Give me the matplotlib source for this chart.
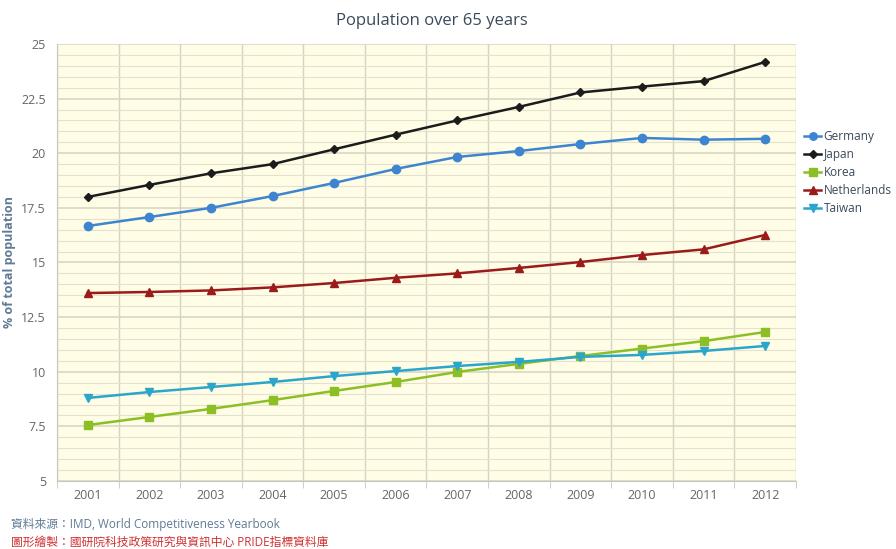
import matplotlib.pyplot as plt

years = ['2001', '2002', '2003', '2004', '2005', '2006', '2007', '2008', '2009', '2010', '2011', '2012']
germany = [16.67, 17.08, 17.5, 18.04, 18.64, 19.28, 19.83, 20.1, 20.42, 20.7, 20.62, 20.66]
japan = [18.0, 18.55, 19.08, 19.5, 20.18, 20.85, 21.5, 22.12, 22.78, 23.05, 23.3, 24.18]
korea = [7.56, 7.93, 8.3, 8.7, 9.12, 9.53, 9.99, 10.36, 10.72, 11.06, 11.4, 11.82]
netherlands = [13.6, 13.65, 13.72, 13.86, 14.06, 14.3, 14.5, 14.75, 15.02, 15.34, 15.6, 16.26]
taiwan = [8.8, 9.07, 9.3, 9.53, 9.8, 10.03, 10.26, 10.45, 10.68, 10.77, 10.95, 11.18]
ytick_vals = [5, 7.5, 10, 12.5, 15, 17.5, 20, 22.5, 25]
ytick_labels = ['5', '7.5', '10', '12.5', '15', '17.5', '20', '22.5', '25']

series = [
    ('Germany', germany, '#3d85d0', 'o', 6),
    ('Japan', japan, '#1c1c1c', 'D', 4.5),
    ('Korea', korea, '#8cbf26', 's', 6),
    ('Netherlands', netherlands, '#9b1b1b', '^', 6),
    ('Taiwan', taiwan, '#2aa6cc', 'v', 6),
]

plt.rcParams['font.family'] = ['Open Sans', 'Noto Sans CJK TC', 'DejaVu Sans']

fig = plt.figure(figsize=(8.96, 5.49), dpi=100)
ax = fig.add_axes([0.0636, 0.1239, 0.8248, 0.796])
ax.set_facecolor('#fffde6')

x = list(range(len(years)))
for name, vals, color, marker, ms in series:
    ax.plot(x, vals, color=color, marker=marker, markersize=ms, linewidth=1.8, label=name)

ax.set_xlim(-0.5, len(years) - 0.5)
ax.set_ylim(5, 25)
ax.set_xticks(x)
ax.set_xticklabels(years)
ax.set_xticks([i - 0.5 for i in range(len(years) + 1)], minor=True)
ax.set_yticks(ytick_vals)
ax.set_yticklabels(ytick_labels)
ax.set_yticks([5 + 0.5 * i for i in range(41)], minor=True)

ax.grid(True, which='major', axis='y', color='#d4d3c4', linewidth=1.1)
ax.grid(True, which='minor', axis='y', color='#e4e2cf', linewidth=0.8)
ax.grid(True, which='minor', axis='x', color='#d4d3c4', linewidth=1.0)
ax.set_axisbelow(True)

ax.tick_params(axis='x', which='major', length=0, colors='#666666', labelsize=9, pad=6)
ax.tick_params(axis='x', which='minor', length=5, color='#c8c8b8')
ax.tick_params(axis='y', which='both', length=0, colors='#666666', labelsize=9, pad=8)

for side in ['top', 'right']:
    ax.spines[side].set_visible(False)
ax.spines['left'].set_color('#c8c8b8')
ax.spines['bottom'].set_color('#c8c8b8')

ax.set_ylabel('% of total population', color='#5f7a95', fontsize=9, fontweight='bold', labelpad=4)
fig.suptitle('Population over 65 years', x=0.482, y=0.962, va='center', fontsize=12, color='#3a4a5a')

ax.legend(loc='center left', bbox_to_anchor=(1.0, 0.705), frameon=False, fontsize=8.5,
          handlelength=1.4, handletextpad=0.25, labelspacing=0.42, markerscale=0.9,
          borderaxespad=0.3, labelcolor='#3a4a5a')

fig.text(0.012, 0.0455, '資料來源：IMD, World Competitiveness Yearbook', fontsize=8.5,
         color='#5f7a95', va='center')
fig.text(0.012, 0.0128, '圖形繪製：國研院科技政策研究與資訊中心 PRIDE指標資料庫', fontsize=8.5,
         color='#d03030', va='center')

fig.savefig('out.png', dpi=100)
